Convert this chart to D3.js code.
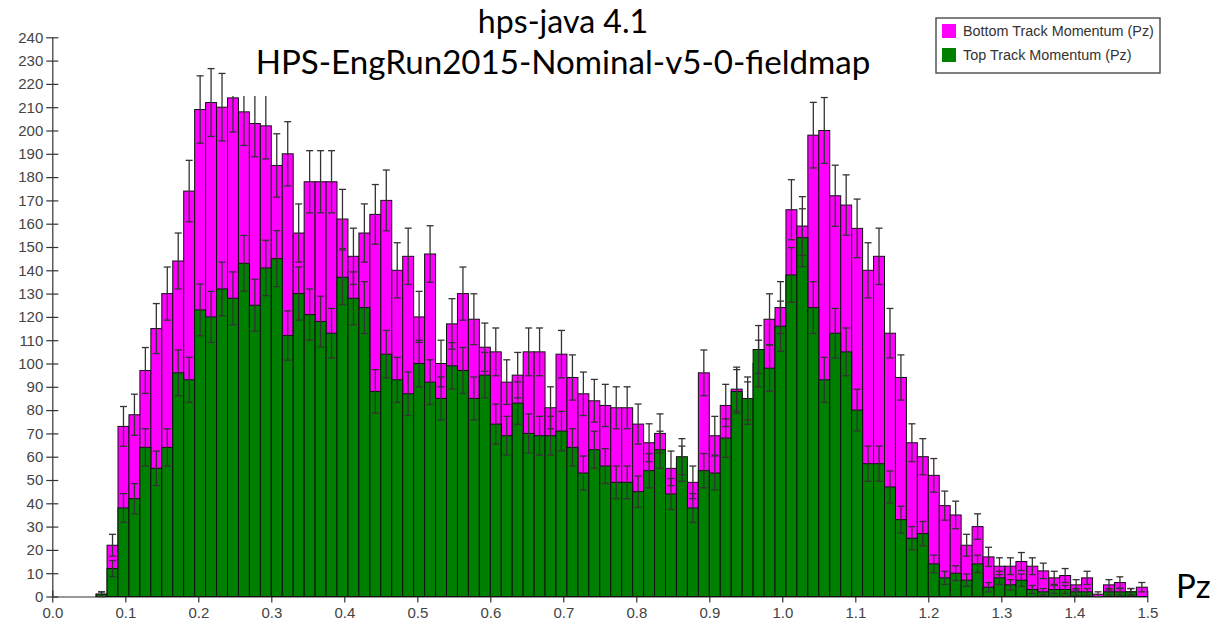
<!DOCTYPE html>
<html>
<head>
<meta charset="utf-8">
<script src="https://cdn.jsdelivr.net/npm/d3@7"></script>
<style>
  html, body { margin: 0; padding: 0; background: #fff; }
  svg { display: block; }
</style>
</head>
<body>
<div class="svg"></div>
<script>
// histogram range and ticks
var pzRange = [0, 1.5];
var yRange = [0, 240];
var xTickValues = [0, 0.1, 0.2, 0.3, 0.4, 0.5, 0.6, 0.7, 0.8, 0.9, 1.0, 1.1, 1.2, 1.3, 1.4, 1.5];
var yTickValues = [0, 10, 20, 30, 40, 50, 60, 70, 80, 90, 100, 110, 120, 130, 140, 150, 160, 170, 180, 190, 200, 210, 220, 230, 240];

// counts per bin (100 bins)
var bottomCounts = [
  0, 0, 0, 0, 1, 22, 73, 78, 97, 115,
  130, 144, 174, 209, 212, 210, 214, 208, 203, 202,
  185, 190, 156, 178, 178, 178, 162, 146, 156, 164,
  170, 140, 146, 120, 147, 100, 117, 130, 119, 107,
  105, 92, 95, 105, 105, 81, 104, 94, 87, 84,
  82, 81, 81, 74, 66, 70, 55, 57, 49, 96,
  69, 82, 89, 83, 100, 119, 124, 166, 159, 198,
  200, 172, 168, 158, 140, 146, 113, 94, 66, 60,
  52, 39, 35, 22, 30, 17, 13, 13, 15, 13,
  11, 8, 9, 5, 8, 1, 5, 6, 2, 4
];
var topCounts = [
  0, 0, 0, 0, 1, 12, 38, 42, 64, 55,
  64, 96, 93, 123, 120, 132, 128, 143, 125, 141,
  145, 112, 130, 121, 118, 113, 137, 128, 124, 88,
  104, 93, 87, 100, 92, 85, 99, 97, 85, 95,
  74, 69, 83, 70, 69, 69, 71, 64, 53, 63,
  56, 49, 49, 45, 54, 63, 44, 60, 38, 54,
  53, 68, 88, 85, 106, 98, 116, 138, 154, 124,
  93, 113, 105, 80, 57, 57, 47, 33, 25, 27,
  14, 8, 10, 7, 14, 4, 8, 5, 7, 3,
  2, 3, 3, 2, 2, 0, 2, 2, 2, 0
];

var seriesNames = ["Bottom Track Momentum (Pz)", "Top Track Momentum (Pz)"];
var seriesColors = ["#ff00ff", "#008000"];
var titleLines = ["hps-java 4.1", "HPS-EngRun2015-Nominal-v5-0-fieldmap"];
var xAxisLabel = "Pz";

var width = 1215, height = 624;

var svg = d3.select(".svg").append("svg")
    .attr("width", width)
    .attr("height", height);

var x = d3.scaleLinear().domain(pzRange).range([52.3, 1147.3]);
var y = d3.scaleLinear().domain(yRange).range([596.5, 37.3]);

var nBins = bottomCounts.length,
    binW = (pzRange[1] - pzRange[0]) / nBins;

// axes (drawn first, bars go over the inner ticks)
var gx = svg.append("g")
    .attr("transform", "translate(0," + y(0) + ")")
    .call(d3.axisBottom(x).tickValues(xTickValues).tickFormat(d3.format(".1f"))
        .tickSizeInner(6).tickSizeOuter(0).tickPadding(5));
var gy = svg.append("g")
    .attr("transform", "translate(" + x(0) + ",0)")
    .call(d3.axisLeft(y).tickValues(yTickValues).tickFormat(d3.format("d"))
        .tickSizeInner(6).tickSizeOuter(0).tickPadding(3));

[gx, gy].forEach(function (g) {
    g.select(".domain").attr("stroke", "#333").attr("stroke-width", 1.2);
    g.selectAll(".tick line").attr("stroke", "#333").attr("stroke-width", 1.2);
    g.selectAll(".tick text")
        .attr("fill", "#444")
        .style("font-family", "'Liberation Sans', Arial, sans-serif")
        .style("font-size", "15px");
});
// ticks cross the axis line
gx.selectAll(".tick line").attr("y1", -6).attr("y2", 6);
gy.selectAll(".tick line").attr("x1", -6).attr("x2", 6);

var series = [bottomCounts, topCounts];

var bars = svg.append("g");
series.forEach(function (counts, s) {
    bars.append("g").selectAll("rect")
        .data(counts.map(function (v, i) { return {i: i, v: v}; })
            .filter(function (d) { return d.v > 0; }))
        .enter().append("rect")
        .attr("x", function (d) { return x(pzRange[0] + d.i * binW); })
        .attr("width", function (d) { return x(pzRange[0] + (d.i + 1) * binW) - x(pzRange[0] + d.i * binW); })
        .attr("y", function (d) { return y(d.v); })
        .attr("height", function (d) { return y(0) - y(d.v); })
        .attr("fill", seriesColors[s])
        .attr("stroke", "#111")
        .attr("stroke-width", 1);
});

// sqrt(N) error bars on top of everything
var errs = svg.append("g").attr("stroke", "#333").attr("stroke-width", 1.3);
series.forEach(function (counts) {
    counts.forEach(function (v, i) {
        if (v <= 0) return;
        var cx = x(pzRange[0] + (i + 0.5) * binW),
            e = Math.sqrt(v),
            lo = y(Math.max(0, v - e)),
            hi = y(v + e);
        errs.append("line").attr("x1", cx).attr("x2", cx).attr("y1", lo).attr("y2", hi);
        errs.append("line").attr("x1", cx - 3.5).attr("x2", cx + 3.5).attr("y1", hi).attr("y2", hi);
        errs.append("line").attr("x1", cx - 3.5).attr("x2", cx + 3.5).attr("y1", lo).attr("y2", lo);
    });
});

// white patch behind the title
svg.append("rect")
    .attr("x", 228).attr("y", 0)
    .attr("width", 650).attr("height", 96)
    .attr("fill", "#fff");

var titleFont = "Lato, 'Open Sans', sans-serif";
var t2 = svg.append("text")
    .attr("x", 563).attr("y", 74)
    .attr("text-anchor", "middle")
    .style("font-family", titleFont)
    .style("font-size", "30px")
    .attr("fill", "#000")
    .text(titleLines[1]);
var fs = 30 * 615 / t2.node().getComputedTextLength();
t2.style("font-size", fs + "px");
svg.append("text")
    .attr("x", 563).attr("y", 33)
    .attr("text-anchor", "middle")
    .style("font-family", titleFont)
    .style("font-size", (fs - 1) + "px")
    .attr("fill", "#000")
    .text(titleLines[0]);

svg.append("text")
    .attr("x", 1176).attr("y", 598)
    .style("font-family", titleFont)
    .style("font-size", "33px")
    .attr("fill", "#000")
    .text(xAxisLabel);

// legend
var legend = svg.append("g");
legend.append("rect")
    .attr("x", 936).attr("y", 18)
    .attr("width", 224).attr("height", 55)
    .attr("fill", "#fff")
    .attr("stroke", "#555")
    .attr("stroke-width", 1.5);
var legendFs = 13;
seriesNames.forEach(function (name, s) {
    legend.append("rect")
        .attr("x", 942).attr("y", 24 + s * 24)
        .attr("width", 14).attr("height", 14)
        .attr("fill", seriesColors[s]);
    var t = legend.append("text")
        .attr("x", 963).attr("y", 36 + s * 24)
        .style("font-family", "'Liberation Sans', Arial, sans-serif")
        .style("font-size", legendFs + "px")
        .attr("fill", "#333")
        .text(name);
    if (s === 0) legendFs = 13 * 191 / t.node().getComputedTextLength();
    t.style("font-size", legendFs + "px");
});
</script>
</body>
</html>
